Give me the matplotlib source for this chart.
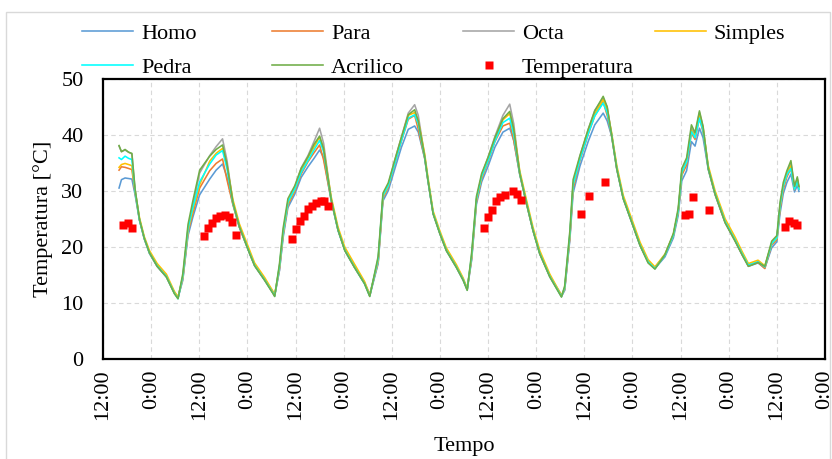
import matplotlib
matplotlib.use("Agg")
import matplotlib.pyplot as plt
from matplotlib.patches import Rectangle

plt.rcParams['font.family'] = ['Liberation Serif', 'DejaVu Serif']

# hours counted from the first 12:00 tick
hours = [4.0, 4.6, 5.5, 6.4, 7.2, 8.0, 9.1, 10.3, 11.6, 13.5, 15.8, 17.8, 18.7,
         19.9, 21.2, 22.4, 24.1, 26.6, 28.2, 29.8, 30.9, 32.4, 34.0, 36.6,
         37.8, 40.3, 42.4, 42.8, 44.0, 44.9, 46.1, 47.8, 49.4, 51.1, 52.6,
         54.0, 55.0, 56.9, 58.6, 60.3, 62.7, 65.2, 66.5, 68.6, 69.8, 71.1,
         72.7, 74.4, 76.1, 77.7, 78.6, 80.2, 81.0, 82.3, 84.0, 85.6, 88.1,
         89.8, 90.8, 91.9, 93.1, 94.4, 96.0, 97.7, 99.7, 101.4, 102.4, 103.9,
         105.6, 107.2, 108.9, 111.4, 114.3, 115.1, 116.4, 117.2, 118.9, 121.0,
         122.6, 124.7, 125.7, 126.8, 128.1, 129.7, 131.8, 133.9, 135.9, 137.6,
         140.1, 142.2, 143.4, 144.3, 145.5, 146.7, 147.6, 148.7, 149.6, 150.9,
         152.6, 155.1, 157.6, 159.3, 160.9, 163.3, 165.0, 166.7, 168.0, 168.8,
         169.6, 170.5, 171.5, 172.4, 173.1, 173.5]

homo = [30.5, 32.0, 32.3, 32.2, 32.1, 29.3, 24.7, 21.4, 18.8, 16.5, 14.6, 11.7, 10.8,
        14.2, 22.0, 25.3, 29.3, 32.1, 33.7, 34.8, 32.5, 27.6, 23.5, 18.7,
        16.6, 14.0, 11.7, 11.2, 15.8, 21.6, 27.0, 29.4, 32.4, 34.3, 35.8,
        37.3, 36.0, 28.2, 22.9, 19.3, 16.3, 13.4, 11.2, 17.0, 28.2, 30.0,
        33.8, 37.8, 41.0, 41.6, 40.5, 35.8, 31.8, 25.9, 22.3, 19.3, 16.3,
        14.0, 12.3, 17.6, 27.6, 31.6, 34.4, 37.8, 40.5, 41.2, 39.0, 32.9,
        27.6, 22.9, 18.7, 14.6, 11.1, 12.2, 21.3, 29.6, 34.4, 38.9,
        41.8, 43.9, 42.5, 39.8, 33.8, 28.6, 24.4, 20.2, 17.2, 16.1,
        18.2, 21.6, 25.6, 31.8, 33.6, 38.8, 38.0, 41.2, 39.5, 33.8,
        29.3, 24.3, 21.0, 18.6, 16.5, 17.1, 16.2, 19.8, 20.9, 26.0,
        29.5, 31.5, 33.0, 29.8, 31.0, 29.9]

para = [33.7, 34.3, 34.2, 34.0, 33.8, 29.6, 24.8, 21.5, 18.9, 16.6, 14.7, 11.8, 10.9,
        14.5, 22.6, 26.0, 30.5, 33.6, 34.9, 35.7, 32.0, 27.5, 23.5, 18.8,
        16.7, 14.1, 11.8, 11.3, 16.2, 22.2, 27.5, 29.9, 33.0, 35.2, 36.8,
        38.2, 35.5, 28.3, 23.0, 19.4, 16.4, 13.5, 11.3, 17.4, 28.7, 30.6,
        34.7, 38.9, 42.8, 43.5, 41.0, 35.8, 31.9, 26.0, 22.4, 19.4, 16.4,
        14.1, 12.4, 18.0, 28.1, 32.2, 35.2, 38.8, 41.6, 42.1, 39.0, 33.0,
        27.7, 23.0, 18.8, 14.7, 11.2, 12.4, 21.8, 30.4, 35.4, 40.2,
        43.4, 45.9, 43.5, 39.8, 33.9, 28.7, 24.5, 20.3, 17.3, 16.2,
        18.5, 22.0, 26.1, 32.8, 34.6, 40.3, 39.2, 43.0, 40.5, 33.9,
        29.4, 24.4, 21.1, 18.7, 16.6, 17.2, 16.1, 20.3, 21.3, 26.8,
        30.3, 32.5, 34.0, 30.2, 31.8, 30.3]

octa = [38.0, 37.0, 37.3, 36.9, 36.6, 30.2, 24.8, 21.4, 18.8, 16.5, 14.6, 11.9, 11.0,
        14.0, 22.5, 27.3, 33.2, 36.3, 37.9, 39.3, 35.5, 27.9, 23.6, 18.8,
        16.7, 14.2, 11.9, 11.4, 15.8, 22.0, 27.8, 30.6, 34.1, 36.3, 38.8,
        41.2, 38.5, 28.5, 23.0, 19.4, 16.4, 13.6, 11.5, 17.2, 28.8, 31.0,
        35.4, 39.6, 43.9, 45.4, 43.5, 36.2, 32.0, 26.0, 22.4, 19.5, 16.5,
        14.2, 12.6, 17.8, 28.3, 32.8, 36.0, 39.7, 43.5, 45.5, 42.0, 33.2,
        27.8, 23.0, 18.8, 14.8, 11.4, 12.3, 21.7, 31.0, 36.2, 41.0,
        44.4, 46.6, 45.0, 40.1, 34.0, 28.7, 24.5, 20.3, 17.4, 16.3,
        18.5, 22.1, 26.3, 33.4, 35.3, 41.2, 40.0, 44.0, 41.5, 34.1,
        29.5, 24.5, 21.2, 18.8, 16.8, 17.3, 16.4, 20.5, 21.6, 27.2,
        30.8, 33.1, 35.0, 30.6, 32.2, 30.6]

simples = [34.2, 34.7, 34.9, 34.7, 34.5, 30.0, 25.2, 21.8, 19.3, 17.0, 15.1, 12.0, 11.0,
           14.6, 23.0, 26.6, 31.1, 35.3, 36.7, 37.6, 34.5, 28.4, 24.1, 19.3,
           17.1, 14.5, 12.0, 11.4, 16.4, 22.4, 27.8, 30.2, 33.6, 35.9, 37.8,
           39.6, 37.5, 28.9, 23.5, 19.9, 16.9, 13.8, 11.4, 17.6, 29.0, 30.8,
           35.0, 39.3, 43.5, 44.0, 42.5, 36.6, 32.5, 26.4, 22.8, 19.8, 16.8,
           14.4, 12.5, 18.2, 28.4, 32.5, 35.5, 39.1, 42.7, 43.8, 41.0, 33.6,
           28.3, 23.5, 19.3, 15.1, 11.3, 12.6, 22.1, 31.0, 35.8, 40.6,
           43.8, 46.3, 44.5, 40.4, 34.5, 29.2, 25.0, 20.8, 17.7, 16.4,
           18.7, 22.2, 26.4, 33.2, 35.2, 40.8, 39.8, 43.5, 41.2, 34.5,
           30.0, 25.0, 21.7, 19.2, 17.0, 17.6, 16.6, 20.6, 21.5, 27.2,
           30.8, 33.0, 34.5, 30.5, 32.0, 30.6]

pedra = [35.9, 35.6, 36.2, 35.8, 35.6, 29.9, 24.8, 21.5, 18.9, 16.6, 14.7, 11.7, 10.7,
         14.8, 23.3, 27.0, 31.6, 34.8, 36.4, 37.2, 34.0, 27.8, 23.6, 18.8,
         16.7, 14.1, 11.7, 11.2, 16.6, 22.7, 28.0, 30.3, 33.3, 35.4, 37.3,
         39.0, 37.0, 28.4, 23.0, 19.4, 16.4, 13.4, 11.2, 17.9, 29.2, 30.9,
         34.8, 39.0, 43.0, 43.6, 42.0, 36.0, 32.0, 26.0, 22.4, 19.4, 16.4,
         14.1, 12.3, 18.5, 28.6, 32.6, 35.4, 38.9, 42.2, 43.0, 40.0, 33.1,
         27.8, 23.0, 18.8, 14.7, 11.1, 12.7, 22.4, 31.1, 35.6, 40.3,
         43.4, 45.7, 44.0, 40.0, 34.0, 28.7, 24.5, 20.3, 17.3, 16.1,
         18.5, 22.1, 26.4, 33.3, 35.2, 40.6, 39.5, 43.0, 40.8, 34.0,
         29.5, 24.5, 21.2, 18.8, 16.7, 17.3, 16.4, 20.6, 21.6, 27.4,
         30.9, 32.9, 34.0, 30.3, 31.7, 30.3]

acrilico = [38.1, 37.0, 37.4, 36.9, 36.7, 30.3, 24.9, 21.5, 18.9, 16.5, 14.6, 11.6, 10.7,
            15.2, 24.0, 28.2, 33.7, 36.2, 37.4, 38.2, 34.8, 27.9, 23.6, 18.7,
            16.6, 14.0, 11.6, 11.1, 17.0, 23.3, 28.6, 30.9, 34.0, 36.1, 38.3,
            39.8, 37.5, 28.4, 23.0, 19.3, 16.3, 13.4, 11.1, 18.3, 29.6, 31.4,
            35.4, 39.6, 43.6, 44.5, 42.5, 36.1, 32.0, 25.9, 22.3, 19.3, 16.3,
            14.0, 12.2, 18.9, 29.0, 33.1, 36.0, 39.5, 42.9, 44.2, 41.0, 33.1,
            27.7, 22.9, 18.7, 14.6, 11.0, 13.0, 22.9, 32.0, 36.3, 41.1,
            44.3, 46.9, 45.0, 40.0, 33.9, 28.6, 24.4, 20.2, 17.1, 16.0,
            18.6, 22.4, 26.9, 34.0, 35.9, 41.8, 40.4, 44.3, 41.5, 34.0,
            29.4, 24.3, 21.0, 18.6, 16.5, 17.2, 16.5, 21.0, 22.0, 28.0,
            31.5, 33.6, 35.4, 30.8, 32.5, 30.8]

temp_hours = [4.9, 6.2, 7.2,
              25.1, 26.2, 27.2, 28.2, 29.2, 30.3, 31.3, 32.1, 33.1,
              47.1, 48.1, 49.1, 50.1, 51.1, 52.1, 53.2, 54.3, 55.1, 56.1,
              95.1, 96.1, 97.1, 97.9, 98.9, 100.1, 102.2, 103.1, 104.2,
              119.1, 121.1, 125.1,
              145.1, 146.2, 147.2, 151.1,
              170.0, 171.1, 172.2, 173.0]
temperatura = [23.9, 24.2, 23.4,
               21.9, 23.3, 24.3, 25.1, 25.5, 25.6, 25.3, 24.5, 22.1,
               21.3, 23.1, 24.6, 25.5, 26.7, 27.2, 27.8, 28.2, 28.1, 27.3,
               23.3, 25.4, 26.5, 28.1, 28.9, 29.3, 29.9, 29.4, 28.4,
               25.8, 29.0, 31.6,
               25.6, 25.9, 28.9, 26.6,
               23.6, 24.6, 24.2, 23.9]

tick_hours = list(range(0, 181, 12))
tick_labels = ['12:00', '0:00'] * 8

series = [
    ('Homo', homo, '#5B9BD5'),
    ('Para', para, '#ED7D31'),
    ('Octa', octa, '#A5A5A5'),
    ('Simples', simples, '#FFC000'),
    ('Pedra', pedra, '#00FFFF'),
    ('Acrilico', acrilico, '#70AD47'),
]

fig = plt.figure(figsize=(8.32, 4.59), dpi=100)
ax = fig.add_axes([103 / 832, 1 - 358.6 / 459, 722 / 832, 279.6 / 459])

handles = {}
for name, vals, col in series:
    handles[name], = ax.plot(hours, vals, color=col, lw=1.15, label=name)
handles['Temperatura'], = ax.plot(temp_hours, temperatura, 's', color='#FF0000',
                                  ms=5.5, mec='none', label='Temperatura')

ax.set_xlim(0, 180)
ax.set_ylim(0, 50)
ax.set_xticks(tick_hours)
ax.set_xticklabels(tick_labels, rotation=90, fontsize=16)
ax.set_yticks(range(0, 51, 10))
ax.tick_params(axis='y', labelsize=16, length=0, pad=14)
ax.tick_params(axis='x', length=0, pad=8)
ax.grid(True, color='#D9D9D9', lw=0.8, ls=(0, (4, 3)))
ax.set_axisbelow(True)
for sp in ax.spines.values():
    sp.set_color('black')
    sp.set_linewidth(1.6)

ax.set_xlabel('Tempo', fontsize=16, labelpad=12)
ax.set_ylabel('Temperatura [°C]', fontsize=16, labelpad=6)

# legend laid out in four fixed columns, like the original
columns = [(['Homo', 'Pedra'], 82), (['Para', 'Acrilico'], 272),
           (['Octa', 'Temperatura'], 463), (['Simples'], 655)]
for names, x in columns:
    fig.legend(handles=[handles[n] for n in names], labels=names,
               loc='upper left', bbox_to_anchor=(x / 832, 1 - 23 / 459),
               frameon=False, fontsize=16, borderpad=0, borderaxespad=0,
               handlelength=2.3, handletextpad=0.35, labelspacing=0.62)

fig.patches.append(Rectangle((6 / 832, -0.01), 824 / 832, 1 - 12 / 459 + 0.01,
                             transform=fig.transFigure, fill=False,
                             edgecolor='#D9D9D9', lw=1.0))

fig.savefig('out.png', dpi=100)
